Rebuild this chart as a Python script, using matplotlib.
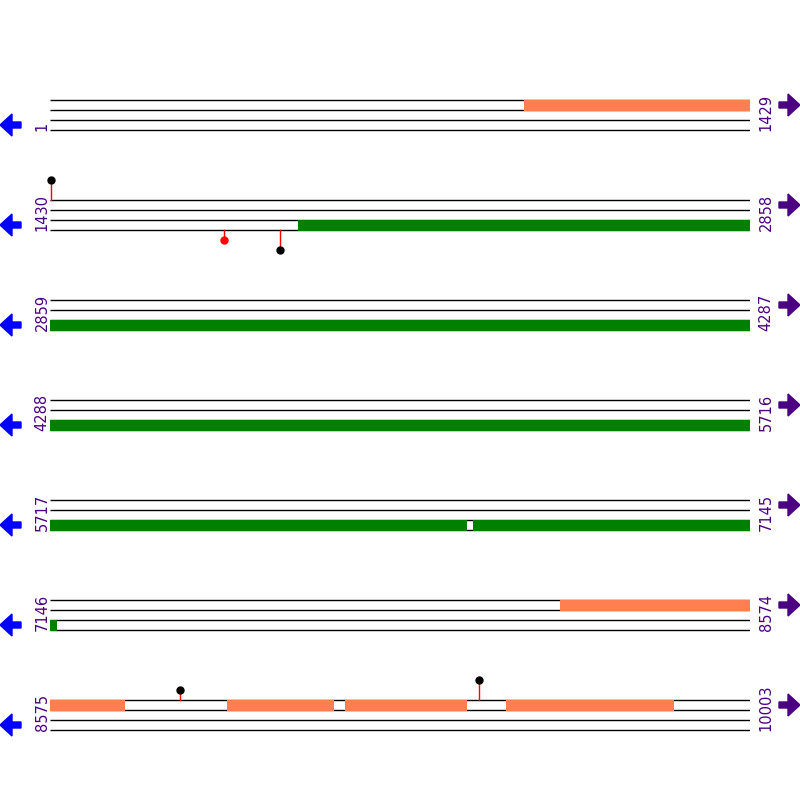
import matplotlib
matplotlib.use("Agg")
import matplotlib.pyplot as plt
from matplotlib.patches import FancyArrow

# sequence layout
seq_len = 10003
row_len = 1429
n_rows = 7

# features: start, end (bp), track, colour
feat_start = [969, 1936, 6580, 8187, 8936, 9177, 9506]
feat_end = [1429, 6568, 7160, 8728, 9153, 9426, 9847]
feat_track = [0, 2, 2, 0, 0, 0, 0]
feat_color = ['#FF7F50', '#008000', '#008000', '#FF7F50', '#FF7F50', '#FF7F50', '#FF7F50']

# sites drawn as lollipops: position, line, stem length (+ up, - down), head colour
site_pos = [1432, 1785, 1900, 8840, 9451]
site_line = [0, 3, 3, 0, 0]
site_len = [2, -1, -2, 1, 2]
site_color = ['black', 'red', 'black', 'black', 'black']

row_starts = [1 + row_len * k for k in range(n_rows)]
row_ends = [min(s + row_len - 1, seq_len) for s in row_starts]

fig = plt.figure(figsize=(8, 8), dpi=100)
ax = fig.add_axes([50 / 800, 0, 700 / 800, 1])
ax.set_xlim(0, row_len)
ax.set_ylim(80, 0)
ax.axis('off')


def row_y(k, line):
    return 10 + 10 * k + line


for k in range(n_rows):
    rs, re_ = row_starts[k], row_ends[k]
    for line in range(4):
        ax.plot([0, row_len], [row_y(k, line)] * 2, color='black', lw=1.0, zorder=1,
                solid_capstyle='butt')

    # features clipped to this row
    for s, e, t, c in zip(feat_start, feat_end, feat_track, feat_color):
        if e < rs or s > re_:
            continue
        a = max(s, rs) - rs
        b = min(e, re_) - rs + 1
        ax.barh(row_y(k, t) + 0.5, b - a, left=a, height=1.1, color=c, lw=0, zorder=2)

    for p, ln, h, c in zip(site_pos, site_line, site_len, site_color):
        if p < rs or p > re_:
            continue
        x = p - rs + 0.5
        y0 = row_y(k, ln)
        ax.plot([x, x], [y0, y0 - h], color='red', lw=1.0, zorder=3)
        ax.plot(x, y0 - h, 'o', color=c, ms=5, zorder=4, clip_on=False)

    # labels
    ax.text(-8 / 700 * row_len, row_y(k, 3) + 0.1, str(rs), rotation=90, ha='center',
            va='bottom', color='#4B0082', fontsize=10.5, clip_on=False)
    ax.text(716 / 700 * row_len, row_y(k, 3) + 0.1, str(re_), rotation=90, ha='center',
            va='bottom', color='#4B0082', fontsize=10.5, clip_on=False)

    # direction arrows
    yl = 1 - (row_y(k, 2.5) * 10) / 800
    yr = 1 - (row_y(k, 0.5) * 10) / 800
    fig.patches.append(FancyArrow(21 / 800, yl, -21 / 800, 0, width=6 / 800, head_width=22 / 800,
                                  head_length=12 / 800, length_includes_head=True,
                                  color='#0000FF', transform=fig.transFigure))
    fig.patches.append(FancyArrow(779 / 800, yr, 21 / 800, 0, width=6 / 800, head_width=22 / 800,
                                  head_length=12 / 800, length_includes_head=True,
                                  color='#4B0082', transform=fig.transFigure))

fig.savefig('out.png', dpi=100)
